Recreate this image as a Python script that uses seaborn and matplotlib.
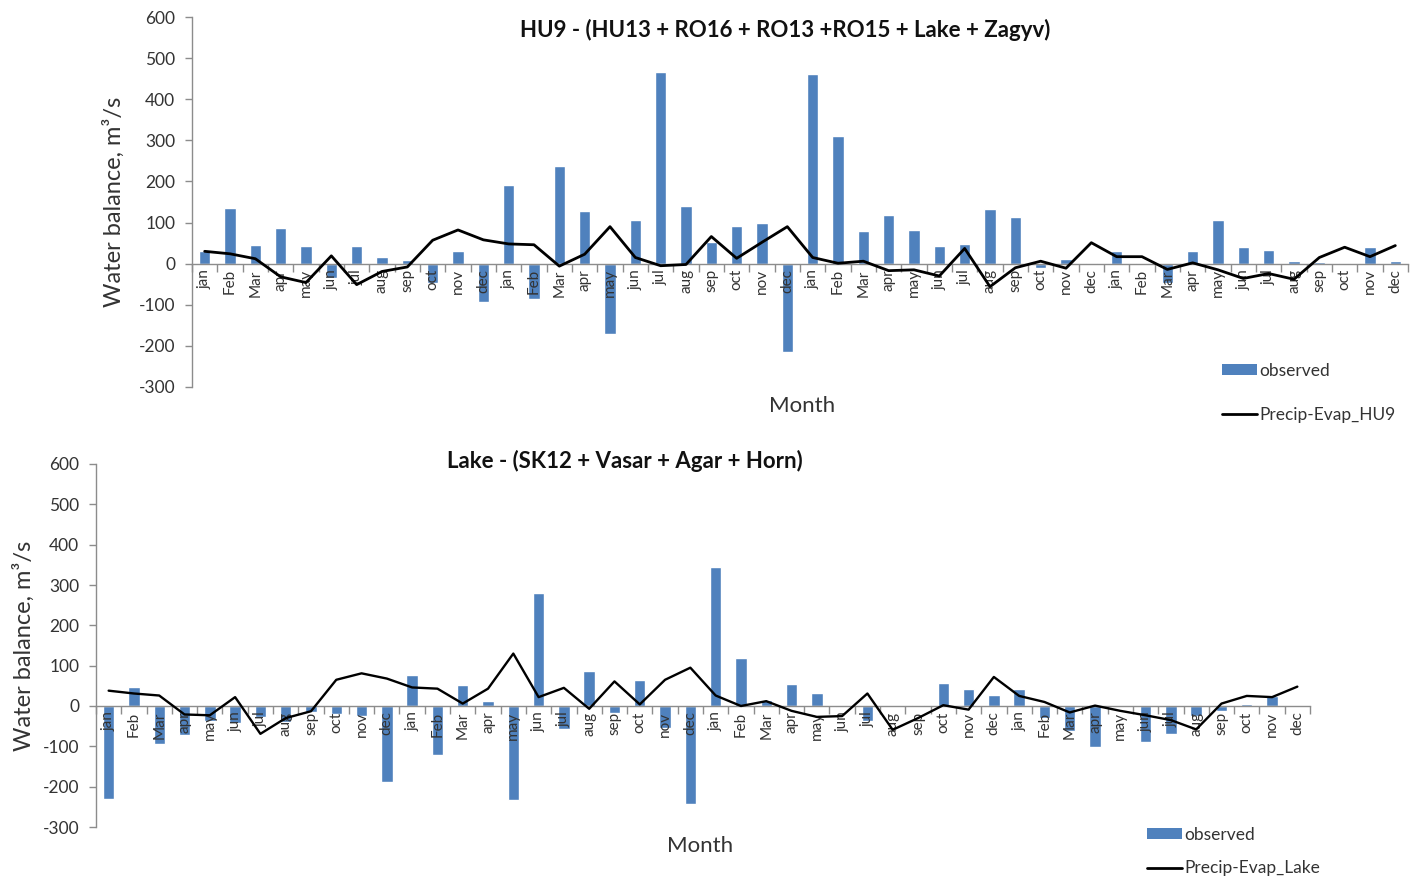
import numpy as np
import pandas as pd
import matplotlib
matplotlib.use("Agg")
import matplotlib.pyplot as plt
import seaborn as sns
from matplotlib.patches import Patch
from matplotlib.lines import Line2D
from matplotlib.ticker import FixedLocator, MultipleLocator

# ---------------- data ----------------
months = ["jan", "Feb", "Mar", "apr", "may", "jun", "jul", "aug", "sep", "oct", "nov", "dec"] * 4

hu9_observed = [31, 136, 46, 87, 43, -36, 43, 15, 9, -46, 32, -93,
                192, -85, 238, 129, -170, 105, 467, 140, 53, 92, 98, -214,
                462, 311, 79, 118, 82, 43, 47, 132, 114, -11, 11, 1,
                32, 1, -48, 32, 105, 40, 33, 6, 5, 1, 40, 6]
hu9_precip_evap = [30, 24, 12, -32, -46, 19, -51, -19, -8, 57, 82, 58,
                   48, 46, -6, 23, 90, 15, -5, -2, 66, 13, 52, 90,
                   15, 1, 6, -17, -15, -30, 37, -56, -10, 6, -11, 51,
                   17, 17, -14, 2, -15, -36, -24, -38, 15, 40, 17, 44]

lake_observed = [-231, 48, -95, -73, -36, -42, -27, -40, -15, -21, -24, -188,
                 78, -122, 51, 12, -234, 280, -56, 87, -17, 64, -54, -244,
                 344, 118, 16, 54, 31, -2, -36, -1, 2, 57, 42, 28,
                 42, -30, -62, -102, 0, -90, -70, -25, -12, 5, 24, 0]
lake_precip_evap = [38, 31, 26, -21, -23, 22, -69, -30, -13, 65, 81, 68,
                    46, 43, 6, 43, 130, 22, 45, -7, 61, 4, 65, 95,
                    26, 0, 12, -12, -27, -25, 31, -59, -30, 2, -9, 72,
                    25, 10, -16, 1, -12, -23, -35, -58, 6, 25, 22, 48]

titles = ["HU9 - (HU13 + RO16 + RO13 +RO15 + Lake + Zagyv)",
          "Lake - (SK12 + Vasar + Agar + Horn)"]
line_labels = ["Precip-Evap_HU9", "Precip-Evap_Lake"]

# ---------------- style ----------------
sns.set_style("white")
plt.rcParams["font.family"] = ["Lato", "DejaVu Sans"]
plt.rcParams["axes.axisbelow"] = "line"
plt.rcParams["axes.unicode_minus"] = False

BAR = "#4F81BD"
AXC = "#8c8c8c"
TXT = "#333333"

W, H = 1423, 876
fig = plt.figure(figsize=(W / 100, H / 100), dpi=100)


def fx(px):
    return px / W


def fy(py):
    return 1 - py / H


panels = [
    dict(obs=hu9_observed, pe=hu9_precip_evap, rect=(192, 17, 1408, 387),
         title=titles[0], title_xy=(785, 30), xlabel_xy=(802, 406),
         leg_xy=(1222, 363), lw=2.0, labelpad=10, line_label=line_labels[0],
         legspace=1.6),
    dict(obs=lake_observed, pe=lake_precip_evap, rect=(96, 464, 1310, 827),
         title=titles[1], title_xy=(625, 461), xlabel_xy=(700, 846),
         leg_xy=(1147, 827), lw=1.7, labelpad=6, line_label=line_labels[1],
         legspace=1.0),
]

for p in panels:
    x0, y0, x1, y1 = p["rect"]
    ax = fig.add_axes([fx(x0), fy(y1), fx(x1 - x0), (y1 - y0) / H])
    df = pd.DataFrame({"pos": np.arange(len(months)), "month": months,
                       "observed": p["obs"], "pe": p["pe"]})
    sns.barplot(data=df, x="pos", y="observed", color=BAR, saturation=1,
                width=0.45, ax=ax, zorder=1)
    sns.lineplot(data=df, x="pos", y="pe", color="black", lw=p["lw"], ax=ax,
                 zorder=3)
    ax.set_xlim(-0.5, len(months) - 0.5)
    ax.set_ylim(-300, 600)
    ax.yaxis.set_major_locator(MultipleLocator(100))

    for s in ["top", "right"]:
        ax.spines[s].set_visible(False)
    ax.spines["bottom"].set_position(("data", 0))
    ax.spines["bottom"].set_color(AXC)
    ax.spines["left"].set_color(AXC)
    ax.spines["bottom"].set_linewidth(1.0)
    ax.spines["left"].set_linewidth(1.0)

    ax.set_xticks(df["pos"])
    ax.set_xticklabels(months, rotation=90, fontsize=11, color=TXT)
    ax.xaxis.set_minor_locator(FixedLocator(np.arange(-0.5, len(months), 1.0)))
    ax.tick_params(axis="x", which="both", bottom=True, top=False)
    ax.tick_params(axis="y", which="both", left=True, right=False)
    ax.tick_params(axis="x", which="major", length=0, pad=4)
    ax.tick_params(axis="x", which="minor", length=6, width=1, color=AXC,
                   direction="out")
    ax.tick_params(axis="y", which="major", length=5, width=1, color=AXC,
                   direction="out", labelsize=12.5, labelcolor=TXT, pad=7)
    ax.xaxis.set_zorder(1.5)

    ax.set_xlabel("")
    ax.set_ylabel("Water balance, m\u00b3/s", fontsize=17, color=TXT,
                  labelpad=p["labelpad"])
    ax.grid(False)

    fig.text(fx(p["title_xy"][0]), fy(p["title_xy"][1]), p["title"],
             ha="center", va="center", fontsize=16, fontweight="bold",
             color="#111111")
    fig.text(fx(p["xlabel_xy"][0]), fy(p["xlabel_xy"][1]), "Month",
             ha="center", va="center", fontsize=16, color=TXT)

    handles = [Patch(facecolor=BAR, edgecolor="none", label="observed"),
               Line2D([0], [0], color="black", lw=2, label=p["line_label"])]
    fig.legend(handles=handles, loc="upper left",
               bbox_to_anchor=(fx(p["leg_xy"][0]), fy(p["leg_xy"][1])),
               frameon=False, fontsize=12.5, handlelength=2.0,
               handleheight=0.6, handletextpad=0.15, borderpad=0,
               borderaxespad=0, labelspacing=p["legspace"], labelcolor=TXT)

fig.savefig("out.png", dpi=100)
